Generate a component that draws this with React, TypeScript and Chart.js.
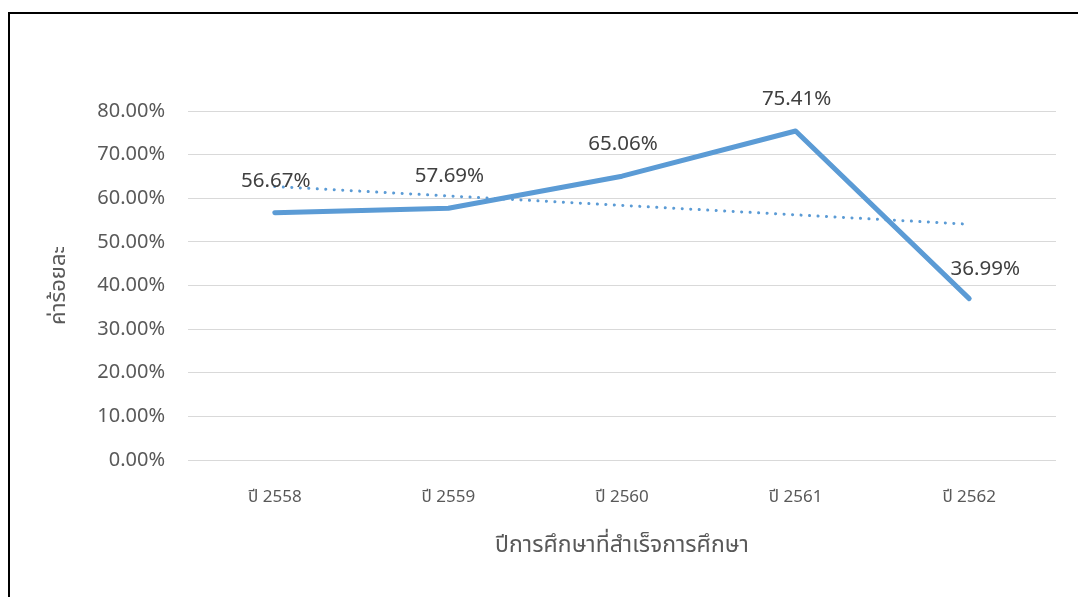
import React, { useEffect, useRef } from "react";
import { Chart, registerables } from "chart.js";

Chart.register(...registerables);

const categories = ["ปี 2558", "ปี 2559", "ปี 2560", "ปี 2561", "ปี 2562"];
const values = [56.67, 57.69, 65.06, 75.41, 36.99];
const trendValues = [62.69, 60.53, 58.36, 56.2, 54.04];
const yMin = 0;
const yMax = 80;
const yStep = 10;
const xTitle = "ปีการศึกษาที่สำเร็จการศึกษา";
const yTitle = "ค่าร้อยละ";

const THAI_FONT = '"Noto Sans Thai", "Noto Sans Thai UI", Loma, Garuda, Norasi, "Tlwg Typo", "Noto Sans", "DejaVu Sans", sans-serif';
const NUM_FONT = '"Noto Sans", "Open Sans", sans-serif';

const labelOffsets: [number, number][] = [
  [1, -32],
  [1, -32],
  [1, -32],
  [1, -32],
  [16, -29],
];

const dataLabelPlugin = {
  id: "dataLabels",
  afterDatasetsDraw(chart: any) {
    const meta = chart.getDatasetMeta(0);
    const ctx = chart.ctx;
    ctx.save();
    ctx.font = `20.5px ${NUM_FONT}`;
    ctx.fillStyle = "#404040";
    ctx.textAlign = "center";
    ctx.textBaseline = "middle";
    meta.data.forEach((pt: any, i: number) => {
      const [dx, dy] = labelOffsets[i];
      ctx.fillText(values[i].toFixed(2) + "%", pt.x + dx, pt.y + dy);
    });
    ctx.restore();
  },
};

export default function App() {
  const ref = useRef<HTMLCanvasElement | null>(null);
  useEffect(() => {
    if (!ref.current) return;
    const chart = new Chart(ref.current, {
      type: "line",
      data: {
        labels: categories,
        datasets: [
          {
            data: values,
            borderColor: "#5B9BD5",
            borderWidth: 5,
            pointRadius: 0,
            borderCapStyle: "round",
            borderJoinStyle: "round",
            tension: 0,
            fill: false,
          },
          {
            data: trendValues,
            borderColor: "#5B9BD5",
            borderWidth: 3,
            borderDash: [0.1, 8.4],
            borderCapStyle: "round",
            pointRadius: 0,
            tension: 0,
            fill: false,
          },
        ],
      },
      options: {
        animation: false,
        responsive: false,
        maintainAspectRatio: false,
        layout: { padding: { left: 0, right: 22, top: 111, bottom: 0 } },
        plugins: {
          legend: { display: false },
          tooltip: { enabled: false },
        },
        scales: {
          x: {
            offset: true,
            grid: { display: false, drawTicks: false },
            border: { display: false },
            ticks: {
              color: "#595959",
              font: { family: THAI_FONT, size: 17 },
              padding: 28,
            },
            title: {
              display: true,
              text: xTitle,
              color: "#595959",
              font: { family: THAI_FONT, size: 23 },
              padding: { top: 0, bottom: 36 },
            },
            afterFit(scale: any) {
              scale.height = 137;
            },
          },
          y: {
            min: yMin,
            max: yMax,
            grid: { color: "#D9D9D9", lineWidth: 1, drawTicks: false },
            border: { display: false },
            ticks: {
              stepSize: yStep,
              color: "#595959",
              font: { family: NUM_FONT, size: 20 },
              padding: 23,
              callback: (v: any) => Number(v).toFixed(2) + "%",
            },
            title: {
              display: true,
              text: yTitle,
              color: "#595959",
              font: { family: THAI_FONT, size: 22 },
              padding: { top: 47, bottom: 0 },
            },
            afterFit(scale: any) {
              scale.width = 188;
            },
          },
        },
      },
      plugins: [dataLabelPlugin],
    });
    return () => chart.destroy();
  }, []);

  return (
    <div style={{ position: "fixed", inset: 0, overflow: "hidden", background: "#fff" }}>
      <div
        style={{
          position: "absolute",
          left: 8,
          top: 12,
          width: 1200,
          height: 800,
          border: "2px solid #000",
        }}
      />
      <canvas
        ref={ref}
        width={1078}
        height={597}
        style={{ position: "absolute", left: 0, top: 0, width: 1078, height: 597 }}
      />
    </div>
  );
}
